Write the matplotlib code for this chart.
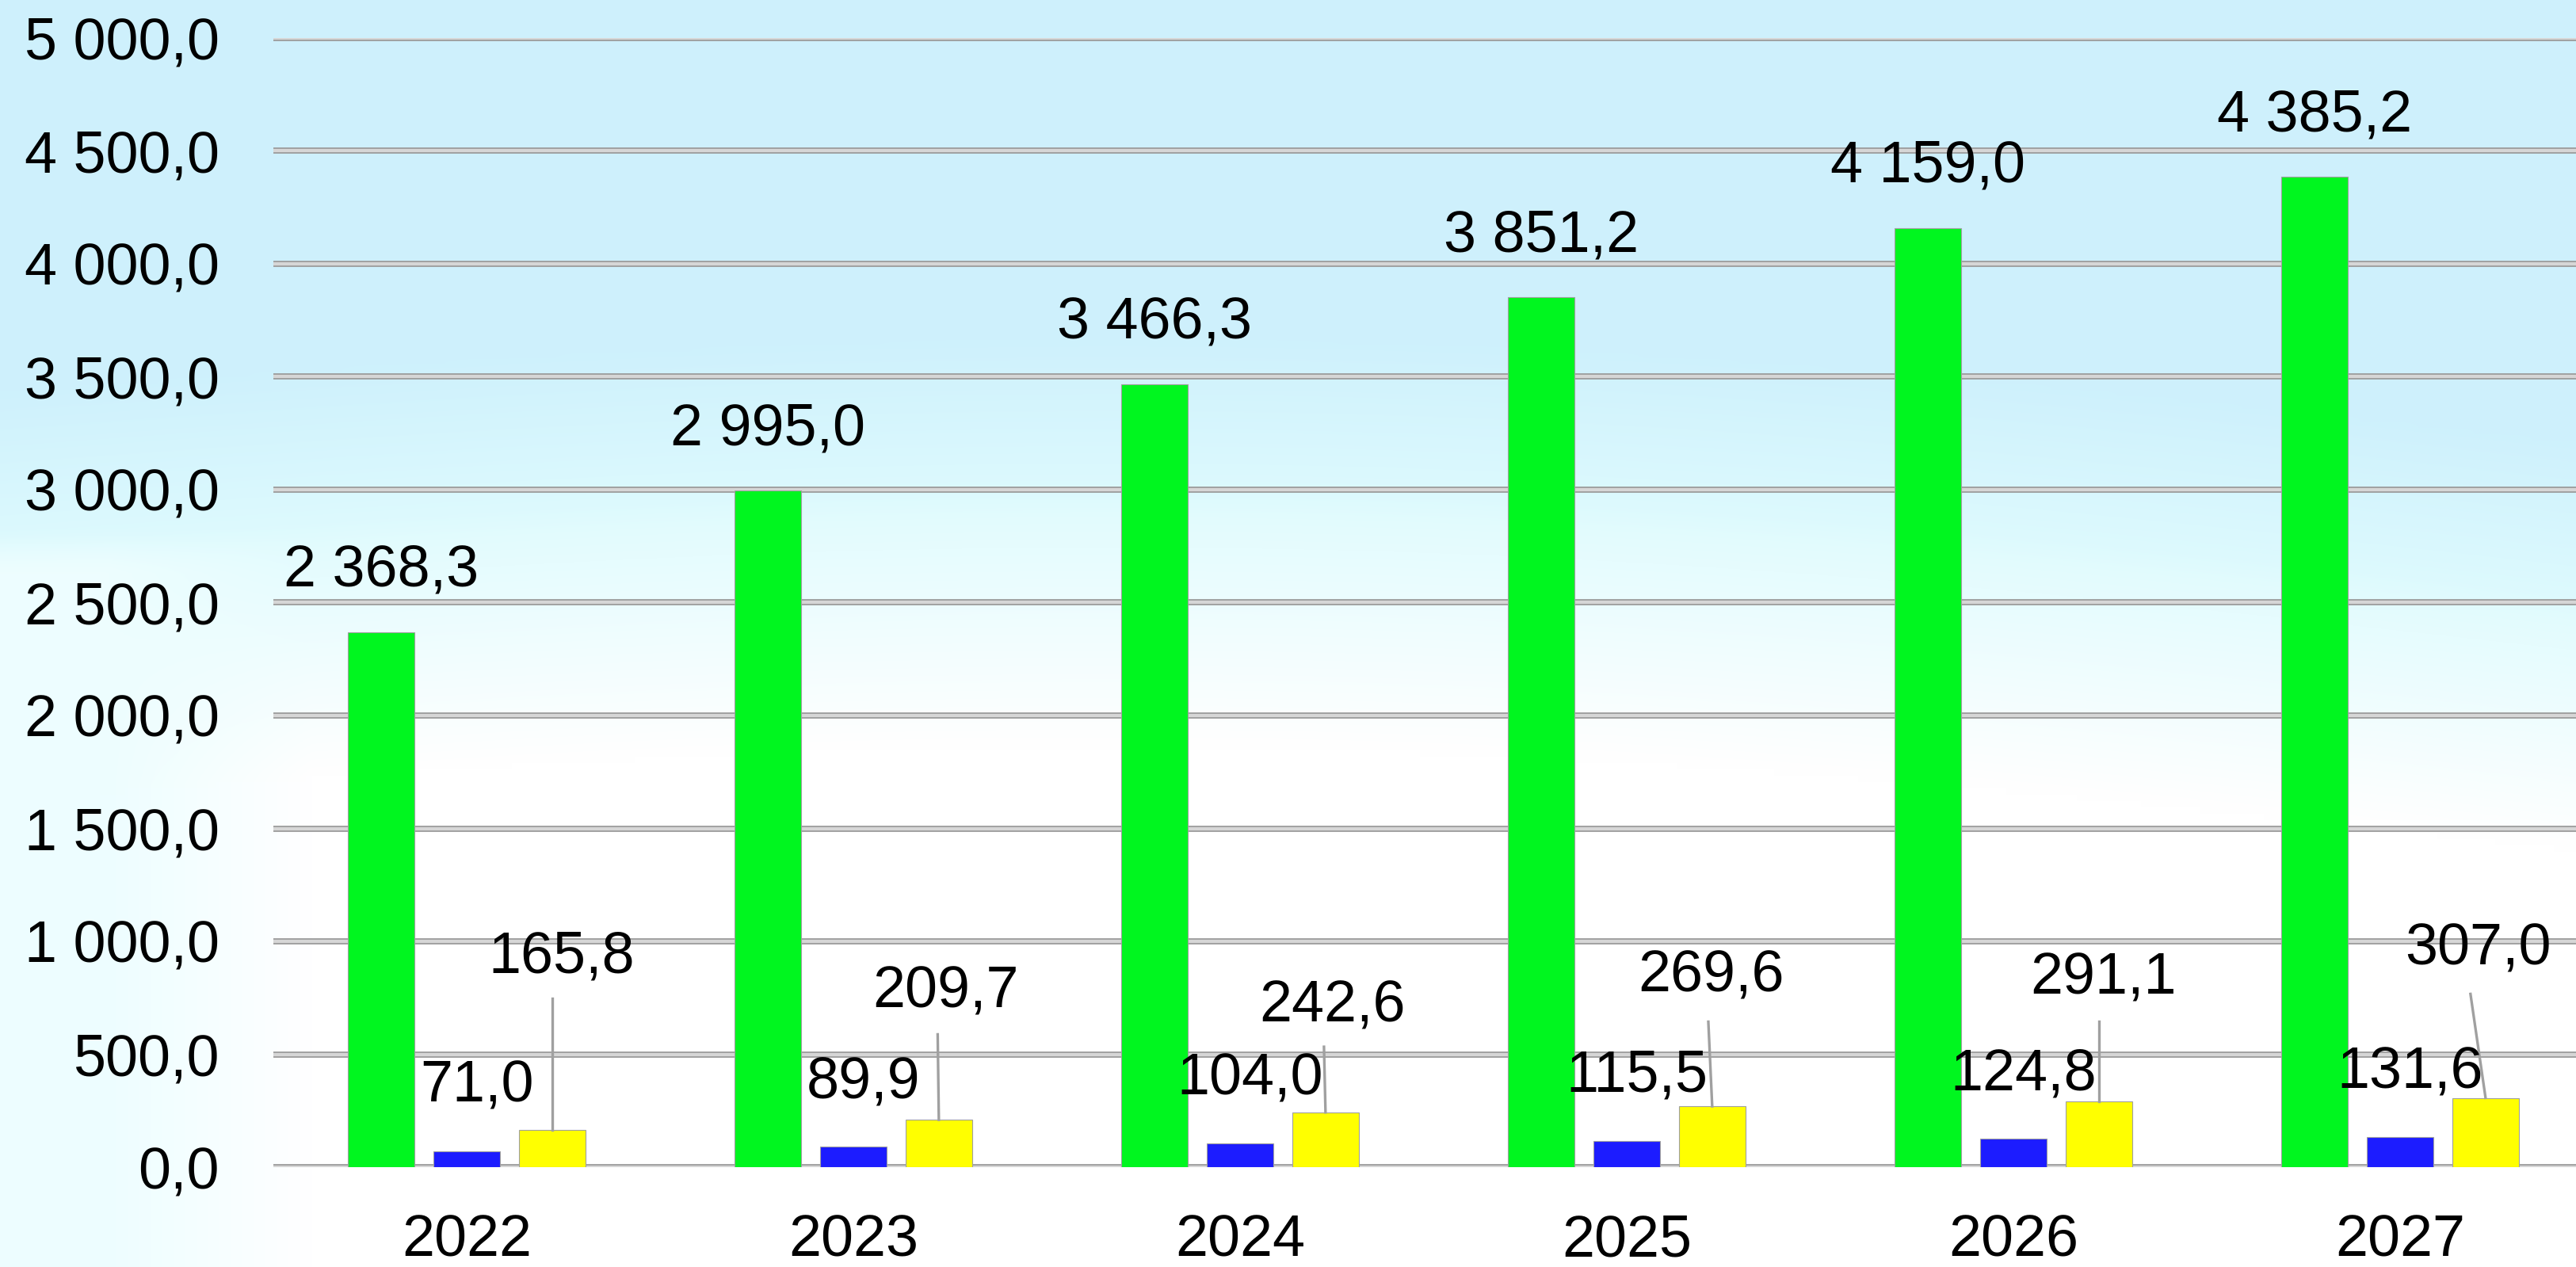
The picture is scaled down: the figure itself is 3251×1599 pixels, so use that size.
import numpy as np
import matplotlib
matplotlib.use("Agg")
import matplotlib.pyplot as plt
from matplotlib.ticker import FuncFormatter

plt.rcParams['font.family'] = ['Liberation Sans', 'DejaVu Sans']

# data
years = ['2022', '2023', '2024', '2025', '2026', '2027']
green_vals = [2368.3, 2995.0, 3466.3, 3851.2, 4159.0, 4385.2]
blue_vals = [71.0, 89.9, 104.0, 115.5, 124.8, 131.6]
yellow_vals = [165.8, 209.7, 242.6, 269.6, 291.1, 307.0]

# where the yellow labels and their leader lines sit (layout only)
yellow_text_y = [931, 774, 714, 844, 834, 966]
yellow_text_dx = [0.025, 0.018, 0.018, -0.002, 0.012, -0.02]
leader_top_y = [746, 588, 533, 644, 644, 767]
leader_top_dx = [0.0, -0.003, -0.004, -0.01, 0.0, -0.039]


def fmt(v, pos=None):
    return f"{v:,.1f}".replace(",", " ").replace(".", ",")


W, H = 3251, 1599
fig = plt.figure(figsize=(W / 100, H / 100), dpi=100)

# slide-like background: light blue on top fading to white
bg = fig.add_axes([0, 0, 1, 1], zorder=-10)
ny, nx = 200, 400
yy, xx = np.mgrid[0:1:ny * 1j, 0:1:nx * 1j]
sky = np.array([0.81, 0.945, 0.99])
pale = np.array([0.875, 0.985, 0.995])
white = np.array([1.0, 1.0, 1.0])
edge = 0.43 - 0.06 * np.sin(np.pi * xx) + 0.04 * xx
t1 = np.clip((yy - (edge - 0.12)) / 0.14, 0, 1)
t2 = np.clip((yy - edge) / 0.2, 0, 1)
img = sky * (1 - t1[..., None]) + pale * t1[..., None]
img = img * (1 - t2[..., None]) + white * t2[..., None]
# pale cyan tint along the lower left margin
w = np.clip((0.12 - xx) / 0.08, 0, 1) * np.clip((yy - 0.42) / 0.03, 0, 1)
tint = np.array([0.93, 0.995, 1.0])
img = img * (1 - w[..., None]) + tint * w[..., None]
bg.imshow(img, extent=[0, 1, 0, 1], origin='upper', aspect='auto', interpolation='bilinear')
bg.set_xlim(0, 1)
bg.set_ylim(0, 1)
bg.axis('off')

ax = fig.add_axes([345 / W, 126 / H, 6 * 488 / W, 1425 / H])
ax.set_facecolor('none')

x = np.arange(len(years))
off = 0.221
bw = 0.172
edge_c = '#a0a0a0'

ax.bar(x - off, green_vals, bw, color='#00f61f', edgecolor=edge_c, linewidth=0.8, zorder=3)
ax.bar(x, blue_vals, bw, color='#1c1cff', edgecolor=edge_c, linewidth=0.8, zorder=3)
ax.bar(x + off, yellow_vals, bw, color='#ffff00', edgecolor=edge_c, linewidth=0.8, zorder=3)

ax.set_xlim(-0.5, len(years) - 0.5)
ax.set_ylim(0, 5000)
ticks = np.arange(0, 5001, 500)
ax.set_yticks(ticks)
ax.yaxis.set_major_formatter(FuncFormatter(fmt))
ax.set_xticks(x)
ax.set_xticklabels(years)

# gridlines drawn as a light bar with darker rim
for t in ticks:
    ax.axhline(t, color='#9c9c9c', lw=5.6, zorder=1, solid_capstyle='round')
    ax.axhline(t, color='#d6d6d6', lw=3.0, zorder=1.1, solid_capstyle='round')

for s in ax.spines.values():
    s.set_visible(False)
ax.tick_params(axis='y', length=0, pad=49, labelsize=53)
ax.tick_params(axis='x', length=0, pad=42, labelsize=53)

fs = 53
for i, v in enumerate(green_vals):
    ax.annotate(fmt(v), (x[i] - off, v), xytext=(0, 31), textcoords='offset points',
                ha='center', va='bottom', fontsize=fs, zorder=5)
for i, v in enumerate(blue_vals):
    ax.annotate(fmt(v), (x[i], v), xytext=(9, 34), textcoords='offset points',
                ha='center', va='bottom', fontsize=fs, zorder=5)
for i, v in enumerate(yellow_vals):
    xc = x[i] + off
    ax.plot([xc + leader_top_dx[i], xc], [leader_top_y[i], v], color='#a0a0a0', lw=2.4, zorder=4)
    ax.text(xc + yellow_text_dx[i], yellow_text_y[i], fmt(v), ha='center', va='center',
            fontsize=fs, zorder=5)

fig.savefig('out.png', dpi=100)
